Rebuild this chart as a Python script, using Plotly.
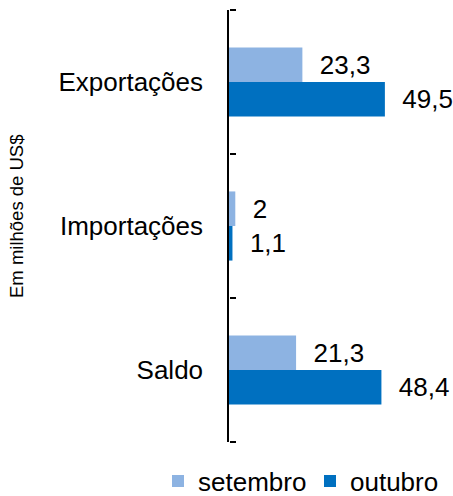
import plotly.graph_objects as go

categories = ["Exportações", "Importações", "Saldo"]
series_names = ["setembro", "outubro"]
setembro = [23.3, 2, 21.3]
outubro = [49.5, 1.1, 48.4]
colors = ["#8DB3E2", "#0070C0"]
y_title = "Em milhões de US$"

FONT = "Liberation Sans, Arial, sans-serif"
W, H = 453, 496
L, R, T, B = 229, 13, 10, 54
PW, PH = W - L - R, H - T - B
N = len(categories)
boundaries = [i - 0.5 for i in range(N + 1)]


def fmt(v):
    return "\u00a0\u00a0" + f"{v:g}".replace(".", ",")


fig = go.Figure()
for name, vals, col in zip(series_names, [setembro, outubro], colors):
    fig.add_trace(go.Bar(
        y=categories, x=vals, name=name, orientation="h",
        marker=dict(color=col, line=dict(width=0)),
        text=[fmt(v) for v in vals], textposition="outside",
        textfont=dict(size=26, color="black", family=FONT),
        constraintext="none", cliponaxis=False, hoverinfo="skip",
    ))
# helper trace so the tick-only overlay axis is drawn
fig.add_trace(go.Scatter(x=[], y=[], yaxis="y2", showlegend=False,
                         hoverinfo="skip"))

fig.update_layout(
    width=W, height=H,
    margin=dict(l=L, r=R, t=T, b=B, pad=0, autoexpand=False),
    paper_bgcolor="white", plot_bgcolor="white",
    barmode="group", bargap=0.52, bargroupgap=0,
    font=dict(family=FONT, size=26, color="black"),
    showlegend=True,
    legend=dict(orientation="h", xanchor="left", yanchor="middle",
                x=(158 - L) / PW, y=-(481 - (H - B)) / PH,
                font=dict(size=26, color="black"), entrywidth=107,
                itemwidth=30, bgcolor="rgba(0,0,0,0)"),
    xaxis=dict(range=[0, 67], showticklabels=False, showline=False,
               showgrid=False, zeroline=False, ticks=""),
    yaxis=dict(categoryorder="array", categoryarray=categories,
               range=[N - 0.5, -0.5],
               showline=True, linecolor="black", linewidth=1.5,
               ticks="", showgrid=False,
               zeroline=False, ticklabelstandoff=19, automargin=False,
               tickfont=dict(size=26, color="black")),
    yaxis2=dict(overlaying="y", side="right", anchor="free", position=0,
                range=[N - 0.5, -0.5], tickmode="array",
                tickvals=boundaries, showticklabels=False,
                ticks="outside", ticklen=6, tickwidth=1.5,
                tickcolor="black", showline=False, showgrid=False,
                zeroline=False, automargin=False),
    annotations=[dict(text=y_title, textangle=-90, xref="paper", yref="paper",
                      x=(16 - L) / PW, y=(H - B - 216) / PH,
                      xanchor="center", yanchor="middle", showarrow=False,
                      font=dict(size=18.5, color="black", family=FONT))],
)

fig.write_html("out.html", config={"displayModeBar": False},
               post_script="document.body.style.margin='0';")
